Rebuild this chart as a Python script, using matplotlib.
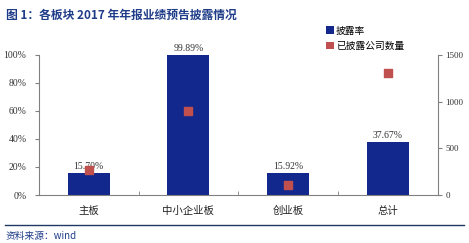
import matplotlib
matplotlib.use("Agg")
import matplotlib.pyplot as plt
import numpy as np
from matplotlib.lines import Line2D
from matplotlib.patches import Patch

categories = ["主板", "中小企业板", "创业板", "总计"]
disclosure_rate = [15.70, 99.89, 15.92, 37.67]
disclosed_count = [270, 900, 105, 1305]
left_ticks = [0, 20, 40, 60, 80, 100]
right_ticks = [0, 500, 1000, 1500]

BLUE = "#13288C"
RED = "#C0504D"
CJK = ["Noto Sans CJK SC", "DejaVu Sans"]
SERIF = ["Liberation Serif", "DejaVu Serif"]

fig = plt.figure(figsize=(4.69, 2.43), dpi=100)
ax = fig.add_axes([0.083, 0.1975, 0.850, 0.5765])
ax2 = ax.twinx()

x = np.arange(len(categories))
ax.bar(x, disclosure_rate, width=0.42, color=BLUE, zorder=2)
for xi, v in zip(x, disclosure_rate):
    ax.text(xi, v + 1.5, f"{v:.2f}%", ha="center", va="bottom",
            fontsize=7, family=SERIF, color="#333333")
ax2.scatter(x, disclosed_count, marker="s", s=30, color=RED, zorder=3)

ax.set_xlim(-0.5, len(categories) - 0.5)
ax.set_ylim(0, 100)
ax2.set_ylim(0, 1500)
ax.set_yticks(left_ticks)
ax.set_yticklabels([f"{t}%" for t in left_ticks], family=SERIF, fontsize=7, color="#333333")
ax2.set_yticks(right_ticks)
ax2.set_yticklabels([str(t) for t in right_ticks], family=SERIF, fontsize=6.5, color="#333333")

ax.set_xticks(x)
ax.set_xticklabels(categories, family=CJK, fontsize=7.5, color="#222222")
ax.tick_params(axis="x", length=0, pad=8)
ax.set_xticks(np.arange(0.5, len(categories) - 0.5, 1), minor=True)
ax.tick_params(axis="x", which="minor", direction="in", length=3, color="#808080")
ax.tick_params(axis="y", direction="out", length=3, color="#808080", pad=6)
ax2.tick_params(axis="y", direction="out", length=3, color="#808080", pad=2.5)

for a in (ax, ax2):
    a.spines["top"].set_visible(False)
    for s in ("left", "right", "bottom"):
        a.spines[s].set_color("#808080")
        a.spines[s].set_linewidth(0.8)
ax.spines["right"].set_visible(False)
ax2.spines["left"].set_visible(False)
ax2.spines["bottom"].set_visible(False)

handles = [Patch(facecolor=BLUE, edgecolor="none"), Patch(facecolor=RED, edgecolor="none")]
fig.legend(handles, ["披露率", "已披露公司数量"], loc="upper left",
           bbox_to_anchor=(0.695, 0.895), frameon=False,
           prop={"family": CJK, "size": 7}, handlelength=0.8, handleheight=0.8,
           handletextpad=0.2, labelspacing=0.55, borderaxespad=0, borderpad=0)

fig.text(0.012, 0.965, "图 1：各板块 2017 年年报业绩预告披露情况", family=CJK,
         fontsize=8.5, fontweight="bold", color="#1F3C88", va="top", ha="left")
fig.add_artist(Line2D([0.01, 0.99], [0.075, 0.075], color="#1F3864", lw=1.0))
fig.text(0.012, 0.028, "资料来源：wind", family=CJK, fontsize=7,
         style="italic", color="#1F3C88", va="center", ha="left")

fig.savefig("out.png", dpi=100)
